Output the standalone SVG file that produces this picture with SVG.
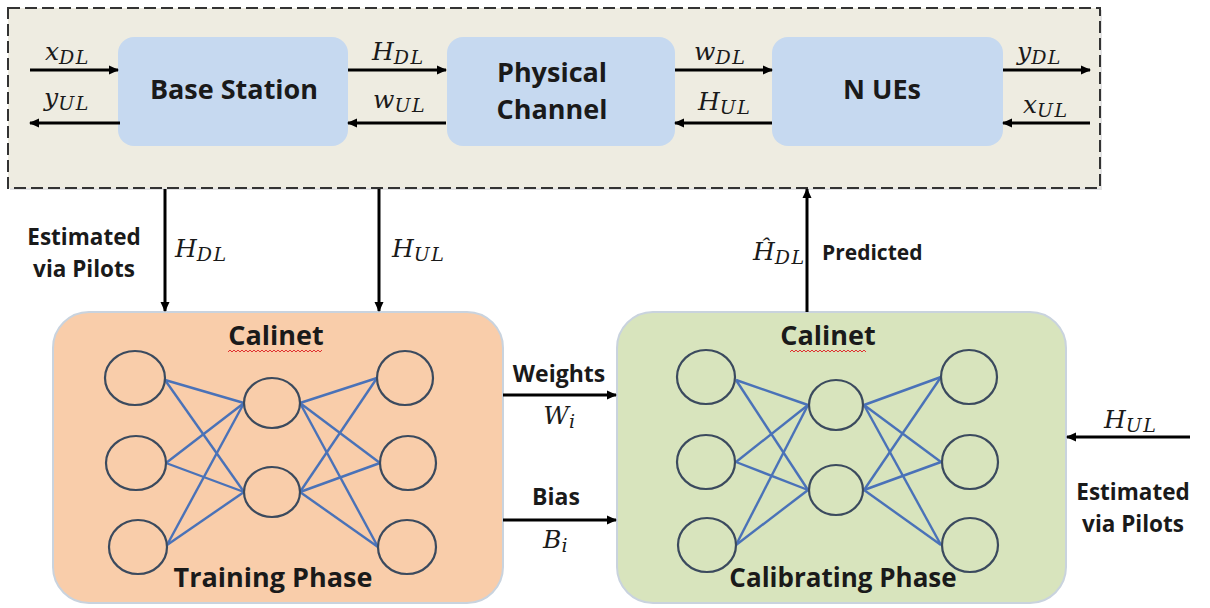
<svg xmlns="http://www.w3.org/2000/svg" width="1210" height="608" viewBox="0 0 1210 608">
  <style>
    .lbl { font-family: "Open Sans", Lato, "Liberation Sans", sans-serif; font-weight: bold; fill: #1a1a1a; }
    .math { font-family: "DejaVu Serif", "Liberation Serif", serif; font-style: italic; fill: #1a1a1a; font-size: 25px; }
    .sub { font-size: 19px; letter-spacing: 1.5px; }
    .wire { stroke: #000; stroke-width: 3; fill: none; }
    .blk { fill: #C6D9F0; }
    .node { fill: none; stroke: #3B4A5E; stroke-width: 2.2; }
    .edge { stroke: #4A72B8; stroke-width: 2.4; }
    .squig { fill: none; stroke: #E03030; stroke-width: 1; }
  </style>
  <defs>
    <marker id="ah" markerUnits="userSpaceOnUse" markerWidth="10" markerHeight="10" refX="9" refY="5" orient="auto">
      <path d="M0,0.5 L10,5 L0,9.5 z" fill="#000"/>
    </marker>
  </defs>

  <rect width="1210" height="608" fill="#fff"/>

  <!-- system frame -->
  <g id="system">
    <rect x="10" y="10" width="1092" height="180" fill="#c8c8c8" opacity="0.5"/>
    <rect x="8" y="8" width="1092" height="180" fill="#EEECE1" stroke="#333" stroke-width="2" stroke-dasharray="12 5"/>
  </g>

  <g id="base-station">
    <rect class="blk" x="118" y="37" width="230" height="109" rx="16"/>
    <text class="lbl" x="234" y="99" font-size="27" text-anchor="middle">Base Station</text>
  </g>

  <g id="physical-channel">
    <rect class="blk" x="447" y="37" width="228" height="109" rx="16"/>
    <text class="lbl" x="552" y="82" font-size="27" text-anchor="middle">Physical</text>
    <text class="lbl" x="552" y="119" font-size="27" text-anchor="middle">Channel</text>
  </g>

  <g id="n-ues">
    <rect class="blk" x="772" y="37" width="231" height="109" rx="16"/>
    <text class="lbl" x="882" y="99" font-size="27" text-anchor="middle">N UEs</text>
  </g>

  <g id="training">
    <rect x="53" y="312" width="450" height="291" rx="36" fill="#F9CDAA" stroke="#C9D3DE" stroke-width="2"/>
    <g class="edge">
      <line x1="165" y1="380" x2="244" y2="403"/>
      <line x1="165" y1="380" x2="244" y2="492"/>
      <line x1="166" y1="463" x2="244" y2="403"/>
      <line x1="166" y1="463" x2="244" y2="492"/>
      <line x1="167" y1="545" x2="244" y2="403"/>
      <line x1="167" y1="545" x2="244" y2="492"/>
      <line x1="300" y1="403" x2="377" y2="378"/>
      <line x1="300" y1="403" x2="380" y2="463"/>
      <line x1="300" y1="403" x2="378" y2="547"/>
      <line x1="300" y1="492" x2="377" y2="378"/>
      <line x1="300" y1="492" x2="380" y2="463"/>
      <line x1="300" y1="492" x2="378" y2="547"/>
    </g>
    <g class="node">
      <ellipse cx="135" cy="378" rx="30" ry="27"/>
      <ellipse cx="136" cy="463" rx="30" ry="27"/>
      <ellipse cx="138" cy="547" rx="29" ry="27"/>
      <ellipse cx="272" cy="403" rx="28" ry="25"/>
      <ellipse cx="272" cy="492" rx="28" ry="25"/>
      <ellipse cx="405" cy="378" rx="28" ry="27"/>
      <ellipse cx="408" cy="463" rx="28" ry="27"/>
      <ellipse cx="407" cy="547" rx="29" ry="27"/>
    </g>
    <text class="lbl" x="276" y="345" font-size="27" text-anchor="middle">Calinet</text>
    <path class="squig" d="M228,352 l2,-2 l2,2 l2,-2 l2,2 l2,-2 l2,2 l2,-2 l2,2 l2,-2 l2,2 l2,-2 l2,2 l2,-2 l2,2 l2,-2 l2,2 l2,-2 l2,2 l2,-2 l2,2 l2,-2 l2,2 l2,-2 l2,2 l2,-2 l2,2 l2,-2 l2,2 l2,-2 l2,2 l2,-2 l2,2 l2,-2 l2,2 l2,-2 l2,2 l2,-2 l2,2 l2,-2 l2,2 l2,-2 l2,2 l2,-2 l2,2 l2,-2 l2,2 l2,-2"/>
    <text class="lbl" x="273" y="587" font-size="27" text-anchor="middle">Training Phase</text>
  </g>

  <g id="calibrating">
    <rect x="617" y="312" width="449" height="291" rx="36" fill="#D8E4BD" stroke="#C9D3DE" stroke-width="2"/>
    <g class="edge">
      <line x1="736" y1="380" x2="808" y2="405"/>
      <line x1="736" y1="380" x2="808" y2="490"/>
      <line x1="736" y1="462" x2="808" y2="405"/>
      <line x1="736" y1="462" x2="808" y2="490"/>
      <line x1="736" y1="545" x2="808" y2="405"/>
      <line x1="736" y1="545" x2="808" y2="490"/>
      <line x1="864" y1="405" x2="941" y2="377"/>
      <line x1="864" y1="405" x2="941" y2="462"/>
      <line x1="864" y1="405" x2="941" y2="545"/>
      <line x1="864" y1="490" x2="941" y2="377"/>
      <line x1="864" y1="490" x2="941" y2="462"/>
      <line x1="864" y1="490" x2="941" y2="545"/>
    </g>
    <g class="node">
      <ellipse cx="706" cy="377" rx="29" ry="27"/>
      <ellipse cx="706" cy="462" rx="29" ry="27"/>
      <ellipse cx="707" cy="545" rx="29" ry="27"/>
      <ellipse cx="836" cy="405" rx="27" ry="25"/>
      <ellipse cx="836" cy="490" rx="27" ry="25"/>
      <ellipse cx="969" cy="377" rx="28" ry="27"/>
      <ellipse cx="970" cy="462" rx="28" ry="27"/>
      <ellipse cx="970" cy="545" rx="28" ry="27"/>
    </g>
    <text class="lbl" x="828" y="345" font-size="27" text-anchor="middle">Calinet</text>
    <path class="squig" d="M790,352 l2,-2 l2,2 l2,-2 l2,2 l2,-2 l2,2 l2,-2 l2,2 l2,-2 l2,2 l2,-2 l2,2 l2,-2 l2,2 l2,-2 l2,2 l2,-2 l2,2 l2,-2 l2,2 l2,-2 l2,2 l2,-2 l2,2 l2,-2 l2,2 l2,-2 l2,2 l2,-2 l2,2 l2,-2 l2,2 l2,-2 l2,2 l2,-2 l2,2 l2,-2 l2,2"/>
    <text class="lbl" x="843" y="587" font-size="26" text-anchor="middle">Calibrating Phase</text>
  </g>

  <!-- connectors -->
  <g id="connectors" class="wire">
    <line x1="30" y1="70" x2="118" y2="70" marker-end="url(#ah)"/>
    <line x1="120" y1="123" x2="30" y2="123" marker-end="url(#ah)"/>
    <line x1="348" y1="70" x2="446" y2="70" marker-end="url(#ah)"/>
    <line x1="446" y1="123" x2="348" y2="123" marker-end="url(#ah)"/>
    <line x1="675" y1="70" x2="772" y2="70" marker-end="url(#ah)"/>
    <line x1="772" y1="123" x2="675" y2="123" marker-end="url(#ah)"/>
    <line x1="1003" y1="70" x2="1090" y2="70" marker-end="url(#ah)"/>
    <line x1="1090" y1="123" x2="1003" y2="123" marker-end="url(#ah)"/>
    <line x1="165" y1="189" x2="165" y2="311" marker-end="url(#ah)"/>
    <line x1="379" y1="189" x2="379" y2="311" marker-end="url(#ah)"/>
    <line x1="807" y1="312" x2="807" y2="189" marker-end="url(#ah)"/>
    <line x1="503" y1="395" x2="616" y2="395" marker-end="url(#ah)"/>
    <line x1="503" y1="520" x2="616" y2="520" marker-end="url(#ah)"/>
    <line x1="1190" y1="437" x2="1067" y2="437" marker-end="url(#ah)"/>
  </g>

  <!-- signal labels -->
  <g id="labels">
    <text class="math" x="45" y="60">x<tspan class="sub" dy="4">DL</tspan></text>
    <text class="math" x="44" y="106">y<tspan class="sub" dy="4">UL</tspan></text>
    <text class="math" x="372" y="60">H<tspan class="sub" dy="4">DL</tspan></text>
    <text class="math" x="373" y="108">w<tspan class="sub" dy="4">UL</tspan></text>
    <text class="math" x="694" y="60">w<tspan class="sub" dy="4">DL</tspan></text>
    <text class="math" x="698" y="110">H<tspan class="sub" dy="4">UL</tspan></text>
    <text class="math" x="1017" y="60">y<tspan class="sub" dy="4">DL</tspan></text>
    <text class="math" x="1023" y="113">x<tspan class="sub" dy="4">UL</tspan></text>

    <text class="lbl" x="84" y="245" font-size="22.5" text-anchor="middle">Estimated</text>
    <text class="lbl" x="84" y="277" font-size="22.5" text-anchor="middle">via Pilots</text>
    <text class="math" x="175" y="257">H<tspan class="sub" dy="4">DL</tspan></text>
    <text class="math" x="392" y="257">H<tspan class="sub" dy="4">UL</tspan></text>

    <text class="math" x="753" y="260">Ĥ<tspan class="sub" dy="4">DL</tspan></text>
    <text class="lbl" x="822" y="260" font-size="21">Predicted</text>

    <text class="lbl" x="559" y="382" font-size="23" text-anchor="middle">Weights</text>
    <text class="math" x="560" y="424" text-anchor="middle">W<tspan class="sub" dy="4">i</tspan></text>
    <text class="lbl" x="556" y="505" font-size="23" text-anchor="middle">Bias</text>
    <text class="math" x="556" y="548" text-anchor="middle">B<tspan class="sub" dy="4">i</tspan></text>

    <text class="math" x="1104" y="428">H<tspan class="sub" dy="4">UL</tspan></text>
    <text class="lbl" x="1133" y="500" font-size="22.5" text-anchor="middle">Estimated</text>
    <text class="lbl" x="1133" y="532" font-size="22.5" text-anchor="middle">via Pilots</text>
  </g>
</svg>
